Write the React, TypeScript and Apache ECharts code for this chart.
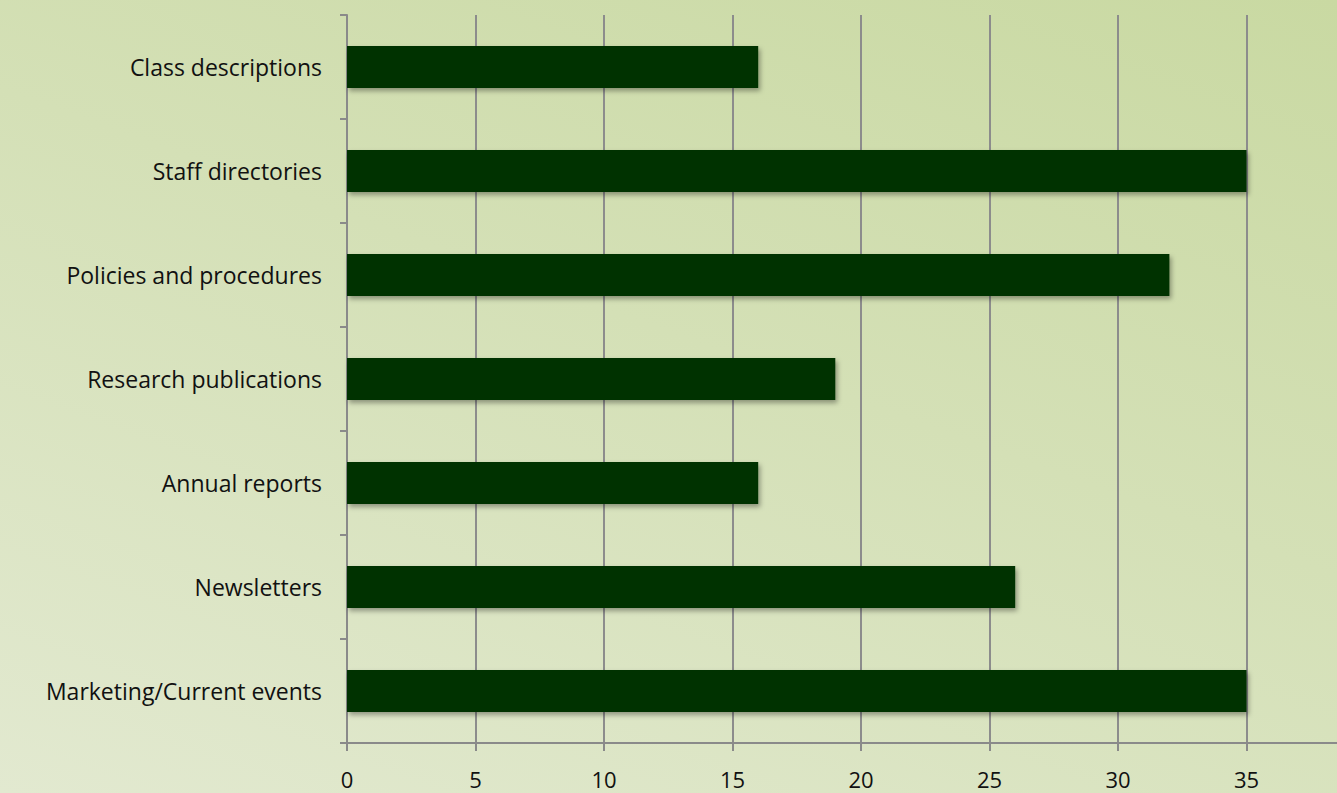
import React, { useEffect, useRef } from "react";
import * as echarts from "echarts";

const categories = [
  "Class descriptions",
  "Staff directories",
  "Policies and procedures",
  "Research publications",
  "Annual reports",
  "Newsletters",
  "Marketing/Current events",
];
const values = [16, 35, 32, 19, 16, 26, 35];
const xMin = 0;
const xMax = 40;
const xInterval = 5;

export default function App() {
  const ref = useRef<HTMLDivElement>(null);
  useEffect(() => {
    if (!ref.current) return;
    const chart = echarts.init(ref.current, null, { renderer: "svg" });
    const font = "'Open Sans', sans-serif";
    chart.setOption({
      animation: false,
      backgroundColor: "transparent",
      grid: { left: 347, top: 15, bottom: 50, right: 25 },
      xAxis: {
        type: "value",
        min: xMin,
        max: xMax,
        interval: xInterval,
        axisLine: { show: true, lineStyle: { color: "#8a8a8a", width: 2 } },
        axisTick: { show: true, length: 8, lineStyle: { color: "#8a8a8a", width: 2 } },
        splitLine: { show: true, lineStyle: { color: "#8c8c8c", width: 2 } },
        axisLabel: {
          color: "#111111",
          fontSize: 22,
          fontFamily: font,
          margin: 25,
          showMaxLabel: false,
        },
      },
      yAxis: {
        type: "category",
        data: categories,
        inverse: true,
        axisLine: { show: true, lineStyle: { color: "#8a8a8a", width: 2 } },
        axisTick: { show: true, length: 7, lineStyle: { color: "#8a8a8a", width: 2 } },
        axisLabel: { color: "#111111", fontSize: 23, fontFamily: font, margin: 25 },
      },
      series: [
        {
          type: "bar",
          data: values,
          barWidth: 42,
          itemStyle: {
            color: "#003300",
            shadowBlur: 5,
            shadowOffsetX: 2,
            shadowOffsetY: 3,
            shadowColor: "rgba(0,0,0,0.35)",
          },
        },
      ],
    });
    return () => chart.dispose();
  }, []);
  return (
    <div
      style={{
        position: "fixed",
        left: 0,
        top: 0,
        width: 1337,
        height: 793,
        overflow: "hidden",
        background: "linear-gradient(200deg, #c9d9a2 0%, #d4e0b6 45%, #e2e9d0 100%)",
      }}
    >
      <div ref={ref} style={{ width: 1400, height: 793 }} />
    </div>
  );
}
